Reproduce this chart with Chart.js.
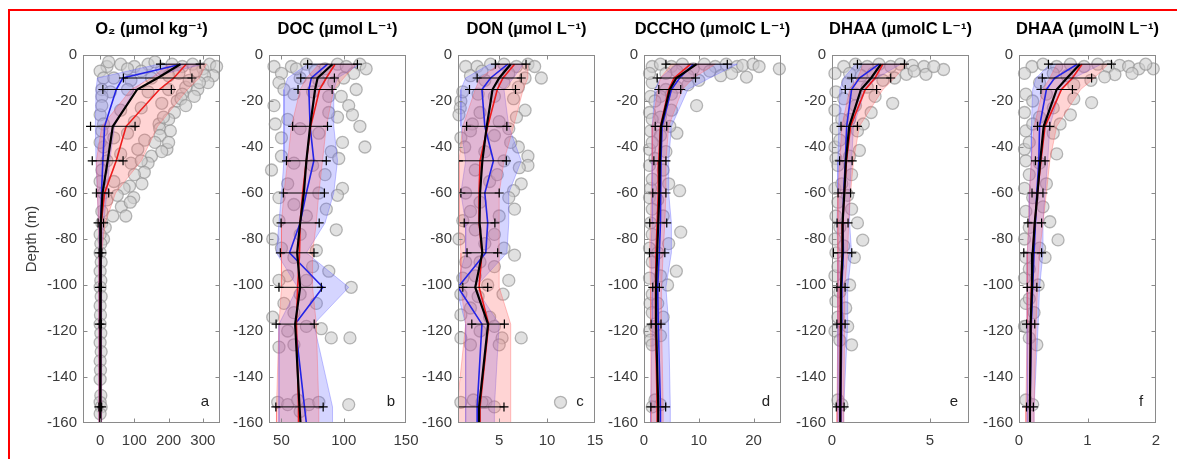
<!DOCTYPE html>
<html><head><meta charset="utf-8">
<script src="https://cdn.jsdelivr.net/npm/chart.js@4.4.1/dist/chart.umd.min.js"></script>
<style>
html,body{margin:0;padding:0;background:#fff;width:1177px;height:459px;overflow:hidden;position:relative;}
#frame{position:absolute;left:8px;top:9px;width:1300px;height:600px;border:2.5px solid #f00;box-sizing:border-box;}
canvas{position:absolute;top:0;}
</style></head><body>
<div id="frame"></div>
<script>
// ---------- shared depth axis ----------
const depths = [-4,-10,-15,-31,-46,-60,-73,-86,-101,-117,-153,-160];
const barDepths = [-4,-10,-15,-31,-46,-60,-73,-86,-101,-117,-153];
const yTicks = [0,-20,-40,-60,-80,-100,-120,-140,-160];

// ---------- a: O2 ----------
const o2Ticks = [0,100,200,300];
const o2All = [234,168,108,37,22,7,2,1,0.5,0.5,0.5,0.5];
const o2AllSd = [58,100,100,65,45,18,8,4,3,3,4];
const o2Blue = [236,66,47,13,8,4,2,1,0.5,0.5,0.5,0.5];
const o2BlueLo = [170,-8,-12,-14,-12,-8,-5,-3,-3,-3,-3,-3];
const o2BlueHi = [300,140,100,42,28,20,10,5,4,4,4,4];
const o2Red = [251,215,173,76,47,13,3,1,0.5,0.5,0.5,0.5];
const o2RedLo = [200,150,90,5,-11,-8,-5,-3,-3,-3,-3,-3];
const o2RedHi = [310,290,255,168,120,45,15,5,4,4,4,4];
const o2Points = [[20,-5],[60,-4],[100,-5],[140,-4],[180,-6],[210,-4],[240,-5],[270,-4],[300,-6],[320,-4],[340,-5],[330,-9],[305,-9],
 [25,-3],[80,-6],[120,-7],[160,-3],[230,-8],[280,-7],[315,-12],[250,-14],[285,-15],[225,-20],[0,-7],
 [10,-10],[40,-10],[90,-11],[150,-10],[200,-9],[260,-11],[290,-12],
 [5,-15],[30,-16],[80,-15],[140,-16],[200,-15],[240,-17],[275,-18],[5,-18],[0,-26],
 [5,-22],[60,-24],[120,-23],[180,-21],[217,-25],[236,-19],[250,-22],[200,-28],[172,-30],[174,-32],[100,-29],[10,-30],[185,-27],[205,-33],
 [5,-33],[40,-36],[80,-34],[130,-37],[175,-35],[195,-41],[200,-38],[150,-44],[110,-41],[60,-43],[10,-40],[20,-46],[90,-47],[140,-47],[160,-38],[180,-42],[120,-46],[0,-38],
 [5,-50],[129,-51],[122,-56],[86,-57],[98,-62],[40,-55],[62,-66],[88,-64],[37,-70],[10,-60],[20,-63],[5,-68],[100,-52],[70,-58],[50,-61],[75,-70],[0,-55],
 [5,-73],[15,-75],[10,-80],[0,-78],[2,-82],[0,-86],[3,-90],[0,-94],[2,-98],[0,-101],[3,-105],[0,-109],[1,-113],[0,-117],[2,-121],[0,-125],[3,-129],[0,-133],[1,-137],[0,-141],[2,-148],[0,-151],[3,-153],[0,-156]];

// ---------- b: DOC ----------
const docTicks = [50,100,150];
const docAll = [91,79,77,73,70,68,65,62.6,65,61,64.5,65.3];
const docAllSd = [20,13.5,13.7,14,16,16.5,15.3,13.5,17,15.3,19];
const docBlue = [87,74,72,73,76,70,65,56.5,83.3,61,68.5,70];
const docBlueLo = [71,55,52,52,52,50,48,46,63,48,48,48];
const docBlueHi = [113,95,92,92,95,92,85,70,104,76,91,91];
const docRed = [93,86,80.6,73.5,70,67,65,64.5,63,62,63.7,63.7];
const docRedLo = [80,70,65,58,55,52,50,50,50,48,46,46];
const docRedHi = [110,100,92,86,83,80,78,75,75,78,80,80];
const docPoints = [[44,-5],[58,-5],[70,-4],[85,-6],[95,-4],[102,-5],[113,-4],[118,-6],[108,-8],[65,-10],[80,-11],[92,-12],
 [50,-8],[62,-6],[77,-7],[100,-10],[48,-12],[110,-15],[98,-18],
 [52,-15],[60,-17],[75,-16],[88,-18],[44,-22],[104,-22],[107,-26],[113,-31],[95,-27],[55,-28],[65,-32],[80,-34],[45,-30],[88,-25],[50,-36],
 [99,-38],[117,-40],[90,-42],[50,-44],[60,-47],[75,-48],[85,-52],[99,-58],[95,-61],[86,-67],[55,-56],[48,-62],[60,-65],[70,-70],[48,-72],[94,-76],[96,-45],[42,-50],[80,-60],
 [43,-80],[50,-84],[78,-85],[60,-88],[88,-94],[55,-96],[70,-98],[106,-101],[65,-104],[52,-108],[43,-114],[82,-119],[90,-123],[105,-123],[48,-127],[60,-126],[70,-118],[55,-120],[65,-78],[75,-92],[48,-98],[60,-112],[78,-108],
 [47,-151],[55,-152],[63,-150],[72,-152],[80,-151],[104,-152],[65,-155]];

// ---------- c: DON ----------
const donTicks = [5,10,15];
const donAll = [6.2,5.0,4.3,3.7,3.24,3.0,2.95,3.24,2.5,3.84,2.9,2.9];
const donAllSd = [1.6,2.3,2.4,2.1,2.5,2.0,1.6,1.6,1.3,1.7,2.6];
const donBlue = [5.9,4.1,3.2,3.5,4.4,3.5,3.8,3.6,0.7,3.2,2.7,2.7];
const donBlueLo = [4,1.5,1.0,1.0,1.5,1.0,1.5,1.5,0.5,1.5,1.5,1.5];
const donBlueHi = [7.5,6.5,5.5,6.0,7.3,6.0,6.0,5.8,2.5,5.0,4.5,4.5];
const donRed = [6.6,5.4,4.8,3.8,3.0,2.9,2.9,3.2,2.9,3.9,3.0,3.0];
const donRedLo = [5,3,2.5,1.2,0.8,0.8,0.8,1.0,1.0,1.5,0.6,0.6];
const donRedHi = [8,8,7.5,6.5,5.5,5.0,5.0,5.0,5.0,6.2,6.2,6.2];
const donPoints = [[1.5,-5],[2.7,-5],[4.1,-4],[5.5,-4],[6.8,-5],[8.0,-4],[8.7,-5],[7.7,-10],[9.4,-10],[2,-9],[3.5,-11],[5.5,-12],
 [3.2,-7],[6,-8],[7,-14],[1,-20],[2.2,-30],[6,-32],[1,-36],[7,-40],
 [1.2,-16],[2.8,-17],[4.5,-18],[6.5,-19],[0.94,-23],[0.8,-26],[7.7,-24],[6.8,-27],[3,-25],[5,-29],[2,-33],[4.5,-35],[6.2,-38],[1.4,-40],[3.5,-42],
 [8.0,-44],[8.0,-48],[7.1,-49],[5.5,-46],[2.5,-50],[7.3,-56],[6.5,-59],[4,-55],[1.5,-60],[3,-64],[6.6,-67],[5,-70],[1.2,-72],[2.5,-76],[4.5,-78],[3.5,-82],[6.6,-87],[1.5,-90],[4.5,-92],[2.5,-96],[5.4,-104],[3.8,-100],[1,-104],[2,-110],[1,-113],[4,-114],[7.3,-123],[1.0,-123],[5.3,-123],[3,-120],[5,-126],
 [4.8,-52],[6,-62],[2,-68],[0.8,-80],[5.5,-84],[3,-90],[1.2,-97],[6,-98],[2.8,-105],[4.5,-118],[2,-126],
 [11.4,-151],[1.0,-151],[2.3,-150],[3.6,-151],[4.5,-153],[3.2,-151]];

// ---------- d: DCCHO ----------
const dcchoTicks = [0,10,20];
const dcchoAll = [9.6,5.9,4.7,3.1,2.9,2.8,2.6,2.4,2.2,2.2,2.6,2.6];
const dcchoAllSd = [5.6,3.5,2.0,1.05,1.1,1.2,1.55,1.4,0.6,0.9,1.35];
const dcchoBlue = [9,6.5,5,3.3,3.1,3.0,3.0,2.8,2.5,2.6,3.0,3.0];
const dcchoBlueLo = [6,3,2,1.5,1.5,1.5,1.5,1.2,1.5,1.5,1.2,1.2];
const dcchoBlueHi = [17,12,8,5,4.5,4.5,5,5,4,4.5,4.8,4.8];
const dcchoRed = [8.5,5.5,4.5,3.0,2.7,2.6,2.4,2.2,2.1,2.1,2.4,2.4];
const dcchoRedLo = [5,3,2.5,1.5,1.5,1.3,1.2,1.0,1.2,1.2,1.3,1.3];
const dcchoRedHi = [13,9,7,4.5,4,4,3.8,3.5,3.2,3.2,3.5,3.5];
const dcchoPoints = [[1.5,-5],[3,-4],[5,-5],[7,-4],[9,-6],[11,-4],[13,-5],[15,-4],[17,-5],[18,-4.5],[19.9,-4],[24.7,-6],[18.7,-9.6],[14,-9],[10,-11],[8,-13],[6,-14],[4,-15],[1.5,-12],
 [4,-8],[6,-7],[8,-9],[12,-7],[16,-8],[21,-5],[3,-18],[5,-17],[3,-27],[6,-34],
 [1,-8],[1.2,-18],[1,-25],[1.2,-33],[1,-41],[1,-48],[1.2,-58],[1,-62],[1.2,-73],[1,-84],[1,-97],[1.1,-108],[1,-120],[1.2,-124],
 [9.6,-22],[2,-20],[5,-24],[1.5,-28],[4.7,-31],[3,-35],[1.5,-38],[4,-42],[2,-45],[3.5,-50],[1.5,-54],[4.5,-56],[6.5,-59],[2.5,-63],[1.5,-67],[3.5,-70],[6.7,-77],[1.5,-78],[4.5,-82],[2.5,-86],[1.5,-90],[5.9,-94],[3,-96],[4.3,-100],[1.5,-104],[2.5,-108],[1.5,-112],[3.5,-114],[2,-118],[3,-122],[1.5,-126],[2,-150],[3,-152],[1.5,-153]];

// ---------- e: DHAA (C) ----------
const dhaacTicks = [0,5];
const dhaacAll = [2.5,2.0,1.48,0.88,0.71,0.63,0.54,0.54,0.46,0.46,0.42,0.42];
const dhaacAllSd = [1.2,1.0,0.8,0.42,0.32,0.32,0.28,0.47,0.21,0.21,0.2];
const dhaacBlue = [2.4,1.4,1.0,0.75,0.68,0.6,0.56,0.58,0.5,0.5,0.45,0.45];
const dhaacBlueLo = [1.2,0.6,0.4,0.35,0.3,0.3,0.25,0.3,0.3,0.3,0.3,0.3];
const dhaacBlueHi = [3.5,2.3,1.7,1.1,1.0,0.9,0.9,1.0,0.8,0.8,0.6,0.6];
const dhaacRed = [2.6,2.2,1.7,0.95,0.74,0.63,0.55,0.52,0.45,0.45,0.42,0.42];
const dhaacRedLo = [1.6,1.3,0.9,0.5,0.4,0.3,0.3,0.3,0.3,0.3,0.25,0.25];
const dhaacRedHi = [3.8,3.2,2.6,1.4,1.1,0.95,0.85,0.8,0.65,0.65,0.6,0.6];
const dhaacPoints = [[0.6,-5],[1.2,-4],[1.8,-5],[2.4,-4],[3.0,-5],[3.5,-4],[4.1,-4.5],[4.7,-5],[5.7,-6.3],[3.8,-8.4],[4.8,-8.4],[3.2,-10],[2.6,-11],[0.8,-12],[1.8,-14],
 [0.9,-8],[1.5,-9],[2.1,-8],[4.2,-7],[5.2,-5],[1.2,-17],[2.2,-18],[0.9,-28],[1.6,-30],
 [0.15,-8],[0.2,-16],[0.15,-24],[0.2,-32],[0.15,-40],[0.2,-45],[0.15,-58],[0.2,-70],[0.15,-80],[0.2,-86],[0.15,-96],[0.2,-107],[0.15,-120],
 [3.1,-21],[0.6,-19],[1.2,-22],[2.0,-25],[0.5,-28],[1.3,-33],[0.4,-37],[1.4,-41.5],[0.9,-44],[0.3,-48],[1.0,-52],[0.5,-56],[0.8,-61],[0.3,-64],[1.0,-67],[1.3,-73],[0.4,-75],[1.57,-80.5],[0.6,-83],[1.14,-88],[0.3,-92],[0.9,-100],[0.4,-103],[0.7,-110],[0.3,-114],[0.8,-118],[1.0,-126],[0.4,-124],[0.3,-150],[0.5,-152]];

// ---------- f: DHAA (N) ----------
const dhaanTicks = [0,1,2];
const dhaanAll = [0.89,0.7,0.55,0.36,0.31,0.27,0.23,0.2,0.19,0.17,0.16,0.16];
const dhaanAllSd = [0.46,0.36,0.23,0.09,0.07,0.08,0.1,0.13,0.07,0.06,0.05];
const dhaanBlue = [0.85,0.52,0.4,0.3,0.29,0.26,0.24,0.22,0.2,0.18,0.16,0.16];
const dhaanBlueLo = [0.45,0.25,0.2,0.18,0.18,0.15,0.15,0.12,0.12,0.12,0.12,0.12];
const dhaanBlueHi = [1.2,0.8,0.6,0.45,0.42,0.38,0.35,0.35,0.3,0.28,0.22,0.22];
const dhaanRed = [0.92,0.78,0.62,0.38,0.32,0.27,0.23,0.2,0.18,0.17,0.16,0.16];
const dhaanRedLo = [0.55,0.45,0.35,0.22,0.18,0.15,0.14,0.12,0.12,0.12,0.1,0.1];
const dhaanRedHi = [1.3,1.1,0.9,0.55,0.45,0.4,0.35,0.3,0.27,0.25,0.22,0.22];
const dhaanPoints = [[0.19,-5],[0.35,-4],[0.55,-5],[0.75,-4],[0.95,-5],[1.15,-4],[1.3,-5],[1.47,-4.5],[1.6,-5],[1.75,-6],[1.96,-6],[1.4,-8.5],[1.25,-9.5],[1.05,-11],[0.3,-12],[0.8,-13],
 [0.5,-8],[0.7,-9],[1.85,-4],[1.65,-8],[0.4,-17],[0.8,-19],[0.3,-27],[0.6,-30],
 [0.08,-8],[0.1,-17],[0.08,-25],[0.1,-33],[0.08,-41],[0.1,-46],[0.08,-58],[0.1,-68],[0.08,-80],[0.1,-88],[0.08,-97],[0.1,-108],[0.08,-118],
 [1.06,-20.7],[0.2,-20],[0.5,-23],[0.75,-26],[0.2,-30],[0.5,-34],[0.15,-38],[0.55,-43],[0.3,-47],[0.15,-52],[0.4,-56],[0.2,-62],[0.35,-66],[0.45,-72.5],[0.15,-75],[0.57,-80.4],[0.3,-84],[0.38,-88],[0.15,-93],[0.28,-100],[0.15,-106],[0.22,-112],[0.1,-118],[0.26,-126],[0.15,-123],[0.1,-150],[0.2,-152]];

// ---------- panels ----------
const panels = [
 {letter:'a', title:'O₂ (µmol kg⁻¹)', min:-50, max:350, ticks:o2Ticks, all:o2All, sd:o2AllSd, blue:o2Blue, blueLo:o2BlueLo, blueHi:o2BlueHi, red:o2Red, redLo:o2RedLo, redHi:o2RedHi, pts:o2Points},
 {letter:'b', title:'DOC (µmol L⁻¹)', min:40, max:150, ticks:docTicks, all:docAll, sd:docAllSd, blue:docBlue, blueLo:docBlueLo, blueHi:docBlueHi, red:docRed, redLo:docRedLo, redHi:docRedHi, pts:docPoints},
 {letter:'c', title:'DON (µmol L⁻¹)', min:0.7, max:15, ticks:donTicks, all:donAll, sd:donAllSd, blue:donBlue, blueLo:donBlueLo, blueHi:donBlueHi, red:donRed, redLo:donRedLo, redHi:donRedHi, pts:donPoints},
 {letter:'d', title:'DCCHO (µmolC L⁻¹)', min:0, max:25, ticks:dcchoTicks, all:dcchoAll, sd:dcchoAllSd, blue:dcchoBlue, blueLo:dcchoBlueLo, blueHi:dcchoBlueHi, red:dcchoRed, redLo:dcchoRedLo, redHi:dcchoRedHi, pts:dcchoPoints},
 {letter:'e', title:'DHAA (µmolC L⁻¹)', min:0, max:7, ticks:dhaacTicks, all:dhaacAll, sd:dhaacAllSd, blue:dhaacBlue, blueLo:dhaacBlueLo, blueHi:dhaacBlueHi, red:dhaacRed, redLo:dhaacRedLo, redHi:dhaacRedHi, pts:dhaacPoints},
 {letter:'f', title:'DHAA (µmolN L⁻¹)', min:0, max:2, ticks:dhaanTicks, all:dhaanAll, sd:dhaanAllSd, blue:dhaanBlue, blueLo:dhaanBlueLo, blueHi:dhaanBlueHi, red:dhaanRed, redLo:dhaanRedLo, redHi:dhaanRedHi, pts:dhaanPoints}
];

// layout (pixels)
const plotLefts = [83,269,458,644,832,1019];
const plotW = 137;
const yAxisW = [83,45,45,45,45,45];
const H = 459;

Chart.defaults.font.family = "'Liberation Sans', Arial, 'DejaVu Sans', sans-serif";

function prof(v){ return depths.map((d,i)=>({x:v[i], y:d})); }
function band(lo, hi){
  const p = [];
  depths.forEach((d,i)=>p.push({x:lo[i], y:d}));
  for (let i=depths.length-1;i>=0;i--) p.push({x:hi[i], y:depths[i]});
  p.push({x:lo[0], y:depths[0]});
  return p;
}
function bars(m, sd){
  const p = [];
  barDepths.forEach((d,i)=>{ p.push({x:m[i]-sd[i], y:d}, {x:m[i]+sd[i], y:d}, {x:null, y:null}); });
  return p;
}

const framePlugin = {
  id:'frame',
  afterDatasetsDraw(chart, args, opts){
    const {ctx, chartArea} = chart;
    const L = Math.round(chartArea.left)+0.5, R = Math.round(chartArea.right)-0.5;
    const T = Math.round(chartArea.top)+0.5, B = Math.round(chartArea.bottom)-0.5;
    ctx.save();
    ctx.strokeStyle = '#8a8a8a'; ctx.lineWidth = 1;
    ctx.strokeRect(L, T, R-L, B-T);
    const tl = 4;
    ctx.beginPath();
    chart.scales.x.ticks.forEach(t=>{
      const px = Math.round(chart.scales.x.getPixelForValue(t.value))+0.5;
      if (px > L+1 && px < R-1){ ctx.moveTo(px,B); ctx.lineTo(px,B-tl); ctx.moveTo(px,T); ctx.lineTo(px,T+tl); }
    });
    chart.scales.y.ticks.forEach(t=>{
      const py = Math.round(chart.scales.y.getPixelForValue(t.value))+0.5;
      if (py > T+1 && py < B-1){ ctx.moveTo(L,py); ctx.lineTo(L+tl,py); ctx.moveTo(R,py); ctx.lineTo(R-tl,py); }
    });
    ctx.stroke();
    ctx.fillStyle = '#222';
    ctx.font = "15px 'Liberation Sans', Arial, sans-serif";
    ctx.textAlign = 'center'; ctx.textBaseline = 'middle';
    ctx.fillText(opts.letter, chartArea.right-15, chartArea.bottom-21);
    ctx.restore();
  }
};

panels.forEach((p, k)=>{
  const cv = document.createElement('canvas');
  const yW = yAxisW[k];
  const w = yW + plotW + yW;           // symmetric so the title centres over the plot
  cv.width = w; cv.height = H;
  cv.style.width = w+'px'; cv.style.height = H+'px';
  cv.style.left = (plotLefts[k]-yW)+'px';
  document.body.appendChild(cv);
  new Chart(cv, {
    type:'scatter',
    data:{ datasets:[
      {type:'line', label:'sd', data:bars(p.all, p.sd), borderColor:'#000', borderWidth:1, showLine:true, spanGaps:false,
       pointStyle:'cross', pointRadius:4.5, pointBorderColor:'#000', pointBorderWidth:1.2, fill:false},
      {type:'line', label:'all', data:prof(p.all), borderColor:'#000', borderWidth:2.2, pointRadius:0, showLine:true, fill:false, tension:0},
      {type:'line', label:'red', data:prof(p.red), borderColor:'#ee1c1c', borderWidth:1.6, pointRadius:0, showLine:true, fill:false, tension:0},
      {type:'line', label:'blue', data:prof(p.blue), borderColor:'#2323e6', borderWidth:1.6, pointRadius:0, showLine:true, fill:false, tension:0},
      {type:'line', label:'redBand', data:band(p.redLo, p.redHi), borderColor:'rgba(255,90,90,0.35)', borderWidth:1,
       backgroundColor:'rgba(255,100,100,0.28)', fill:'shape', pointRadius:0, showLine:true, tension:0},
      {type:'line', label:'blueBand', data:band(p.blueLo, p.blueHi), borderColor:'rgba(90,90,255,0.35)', borderWidth:1,
       backgroundColor:'rgba(100,100,255,0.27)', fill:'shape', pointRadius:0, showLine:true, tension:0},
      {type:'scatter', label:'obs', data:p.pts.map(([x,y])=>({x,y})), pointRadius:6, pointBackgroundColor:'rgba(205,205,205,0.6)',
       pointBorderColor:'rgba(145,145,145,0.65)', pointBorderWidth:1.3, clip:false}
    ]},
    options:{
      responsive:false, animation:false, devicePixelRatio:1, events:[],
      layout:{padding:0},
      plugins:{
        legend:{display:false}, tooltip:{enabled:false},
        title:{display:true, text:p.title, color:'#000', fullSize:true,
               font:{size:16.5, weight:'bold', family:"'Liberation Sans', Arial, 'DejaVu Sans', sans-serif"},
               padding:{top:20, bottom:15.2}},
        frame:{letter:p.letter}
      },
      scales:{
        x:{type:'linear', position:'bottom', min:p.min, max:p.max,
           grid:{display:false, drawTicks:false}, border:{display:false},
           ticks:{color:'#3a3a3a', font:{size:15}, padding:9, maxRotation:0, autoSkip:false},
           afterBuildTicks:s=>{ s.ticks = p.ticks.map(v=>({value:v})); },
           afterFit:s=>{ s.height = 36; s.paddingLeft = 0; s.paddingRight = 0; }},
        y:{type:'linear', position:'left', min:-160, max:0,
           grid:{display:false, drawTicks:false}, border:{display:false},
           ticks:{color:'#3a3a3a', font:{size:15}, padding:6, autoSkip:false},
           title: k===0 ? {display:true, text:'Depth (m)', color:'#3a3a3a', font:{size:15}, padding:{top:23, bottom:0}} : {display:false},
           afterBuildTicks:s=>{ s.ticks = yTicks.map(v=>({value:v})); },
           afterFit:s=>{ s.width = yW; s.paddingTop = 0; s.paddingBottom = 0; }},
        yR:{type:'linear', position:'right', display:true,
           grid:{display:false, drawTicks:false}, border:{display:false},
           ticks:{display:false},
           afterFit:s=>{ s.width = yW; s.paddingTop = 0; s.paddingBottom = 0; }}
      }
    },
    plugins:[framePlugin]
  });
});
</script>
</body></html>
